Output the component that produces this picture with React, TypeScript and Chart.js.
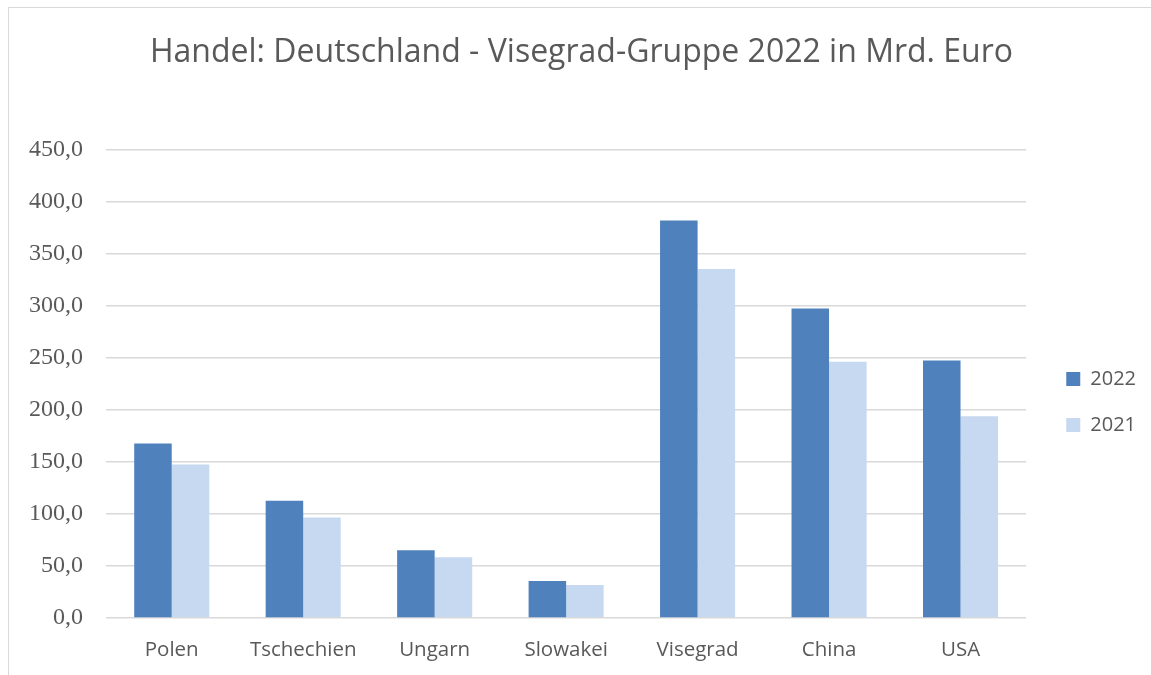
import React, { useEffect, useRef } from 'react';
import { Chart, registerables } from 'chart.js';

Chart.register(...registerables);

const categories = ['Polen', 'Tschechien', 'Ungarn', 'Slowakei', 'Visegrad', 'China', 'USA'];
const values2022 = [167.7, 112.7, 65.1, 35.6, 382.2, 297.7, 247.6];
const values2021 = [147.7, 96.6, 58.4, 31.8, 335.6, 246.3, 194.0];
const seriesLabels = ['2022', '2021'];
const titleText = 'Handel: Deutschland - Visegrad-Gruppe 2022 in Mrd. Euro';
const yMin = 0;
const yMax = 450;
const yStep = 50;

const TEXT = '#595959';

export default function App() {
  const ref = useRef<HTMLCanvasElement>(null);
  useEffect(() => {
    document.body.style.overflow = 'hidden';
    const chart = new Chart(ref.current as HTMLCanvasElement, {
      type: 'bar',
      data: {
        labels: categories,
        datasets: [
          {
            label: seriesLabels[0],
            data: values2022,
            backgroundColor: '#4f81bd',
            borderWidth: 0,
            categoryPercentage: 0.571,
            barPercentage: 1,
          },
          {
            label: seriesLabels[1],
            data: values2021,
            backgroundColor: '#c6d9f0',
            borderWidth: 0,
            categoryPercentage: 0.571,
            barPercentage: 1,
          },
        ],
      },
      options: {
        animation: false,
        responsive: true,
        maintainAspectRatio: false,
        layout: { padding: { left: 8, right: 5, top: 0, bottom: 0 } },
        plugins: {
          tooltip: { enabled: false },
          title: {
            display: true,
            text: titleText,
            color: TEXT,
            font: { family: 'Open Sans', size: 32, weight: 'normal', lineHeight: 1.2 },
            padding: { top: 25.8, bottom: 77.8 },
          },
          legend: {
            position: 'right',
            fullSize: false,
            title: {
              display: true,
              text: ' ',
              color: 'rgba(0,0,0,0)',
              font: { size: 10, lineHeight: 1 },
              padding: { top: 0, bottom: 26 },
            },
            labels: {
              boxWidth: 14,
              boxHeight: 14,
              padding: 26,
              color: TEXT,
              font: { family: 'Open Sans', size: 20 },
            },
          },
        },
        scales: {
          x: {
            grid: { display: false },
            border: { display: false },
            ticks: {
              color: TEXT,
              font: { family: 'Open Sans', size: 20.5 },
              padding: 12,
            },
            afterFit: (s: any) => {
              s.height = 57;
            },
          },
          y: {
            min: yMin,
            max: yMax,
            grid: { color: '#d9d9d9', lineWidth: 1.5, drawTicks: false },
            border: { display: false },
            ticks: {
              stepSize: yStep,
              color: TEXT,
              font: { family: 'Liberation Serif', size: 24 },
              padding: 23,
              callback: (v: any) => Number(v).toFixed(1).replace('.', ','),
            },
            afterFit: (s: any) => {
              s.width = 89;
            },
          },
          y2: {
            type: 'linear',
            position: 'right',
            display: true,
            grid: { display: false },
            border: { display: false },
            ticks: { display: false },
            afterFit: (s: any) => {
              s.width = 14;
            },
          },
        },
      },
    });
    return () => chart.destroy();
  }, []);
  return (
    <div
      style={{
        position: 'fixed',
        left: 8,
        top: 7,
        width: 1143,
        height: 668,
        boxSizing: 'border-box',
        borderLeft: '1px solid #d9d9d9',
        borderTop: '1px solid #d9d9d9',
        background: '#fff',
      }}
    >
      <canvas ref={ref} />
    </div>
  );
}
